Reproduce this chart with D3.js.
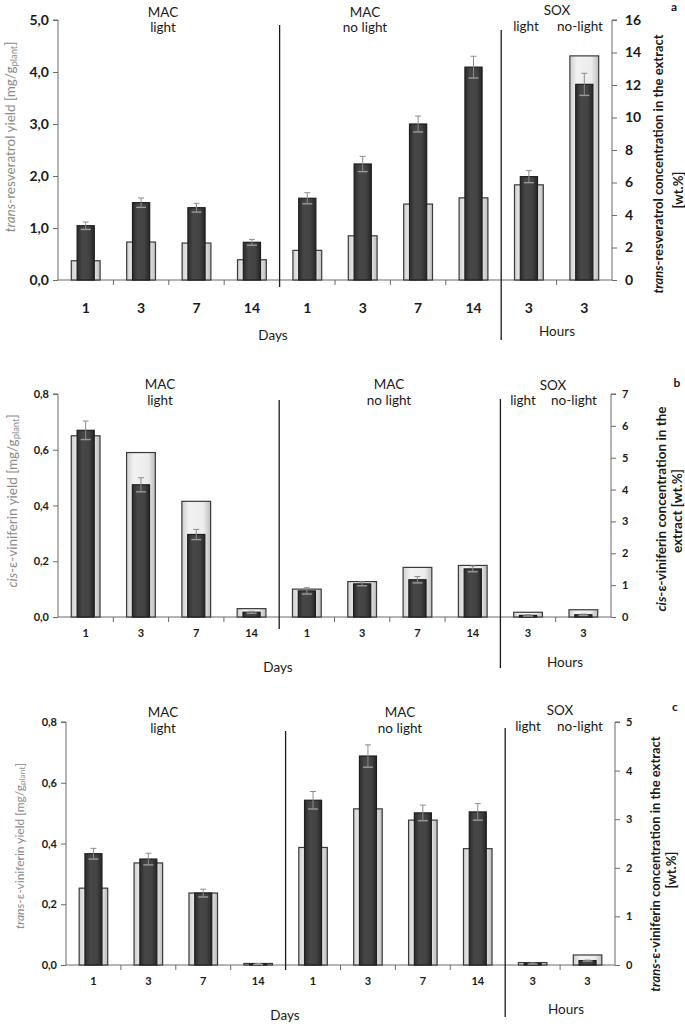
<!DOCTYPE html>
<html>
<head>
<meta charset="utf-8">
<script src="https://cdn.jsdelivr.net/npm/d3@7"></script>
<style>
  html, body { margin: 0; padding: 0; background: #fff; }
  svg { display: block; font-family: Lato, "Open Sans", sans-serif; }
</style>
</head>
<body>
<svg id="chart" width="685" height="1024"></svg>
<script>
// ---------- DATA ----------
const categories = ["1", "3", "7", "14", "1", "3", "7", "14", "3", "3"];

// Panel a: trans-resveratrol
const resvYield   = [0.37, 0.73, 0.71, 0.39, 0.57, 0.85, 1.46, 1.58, 1.83, 4.31];
const resvConc    = [3.34, 4.76, 4.45, 2.32, 5.03, 7.14, 9.60, 13.10, 6.36, 12.04];
const resvConcErr = [0.23, 0.29, 0.27, 0.18, 0.34, 0.47, 0.49, 0.67, 0.37, 0.68];
const resvLeftTicks  = [0, 1, 2, 3, 4, 5];
const resvRightTicks = [0, 2, 4, 6, 8, 10, 12, 14, 16];

// Panel b: cis-ε-viniferin
const cisYield   = [0.65, 0.59, 0.415, 0.03, 0.10, 0.127, 0.178, 0.185, 0.017, 0.026];
const cisConc    = [5.86, 4.15, 2.59, 0.15, 0.82, 1.04, 1.17, 1.51, 0.05, 0.07];
const cisConcErr = [0.29, 0.22, 0.16, 0.03, 0.10, 0.06, 0.10, 0.09, 0.02, 0.02];
const cisLeftTicks  = [0, 0.2, 0.4, 0.6, 0.8];
const cisRightTicks = [0, 1, 2, 3, 4, 5, 6, 7];

// Panel c: trans-ε-viniferin
const transYield   = [0.253, 0.336, 0.237, 0.005, 0.387, 0.514, 0.477, 0.383, 0.008, 0.033];
const transConc    = [2.29, 2.18, 1.48, 0.02, 3.39, 4.30, 3.13, 3.15, 0.03, 0.09];
const transConcErr = [0.11, 0.12, 0.08, 0.01, 0.18, 0.23, 0.16, 0.17, 0.01, 0.01];
const transLeftTicks  = [0, 0.2, 0.4, 0.6, 0.8];
const transRightTicks = [0, 1, 2, 3, 4, 5];

const groupLabels = ["MAC", "MAC", "SOX"];
const groupSubLabels = ["light", "no light"];
const soxSubLabels = ["light", "no-light"];

// ---------- DRAWING ----------
const svg = d3.select("#chart");
const defs = svg.append("defs");
const lg = defs.append("linearGradient").attr("id", "lightGrad").attr("x1", "0").attr("x2", "1").attr("y1", "0").attr("y2", "0");
lg.append("stop").attr("offset", "0").attr("stop-color", "#cfcfcf");
lg.append("stop").attr("offset", "0.25").attr("stop-color", "#f2f2f2");
lg.append("stop").attr("offset", "0.75").attr("stop-color", "#ececec");
lg.append("stop").attr("offset", "1").attr("stop-color", "#bdbdbd");
const dg = defs.append("linearGradient").attr("id", "darkGrad").attr("x1", "0").attr("x2", "1").attr("y1", "0").attr("y2", "0");
dg.append("stop").attr("offset", "0").attr("stop-color", "#2c2c2c");
dg.append("stop").attr("offset", "0.3").attr("stop-color", "#474747");
dg.append("stop").attr("offset", "0.7").attr("stop-color", "#434343");
dg.append("stop").attr("offset", "1").attr("stop-color", "#262626");

function drawPanel(p) {
  const g = svg.append("g");
  const idx = d3.range(categories.length);
  const x = d3.scaleBand().domain(idx).range([p.left, p.right]).padding(0);
  const yL = d3.scaleLinear().domain(p.leftDomain).range([p.bottom, p.top]);
  const yR = d3.scaleLinear().domain(p.rightDomain).range([p.bottom, p.top]);
  const step = x.step();
  const lw = step * 0.52, dw = step * 0.31;

  // left axis
  const axL = d3.axisLeft(yL).tickValues(p.leftTicks).tickSize(5).tickPadding(4)
    .tickFormat(d => d3.format(".1f")(d).replace(".", ","));
  const gL = g.append("g").attr("transform", `translate(${p.left},0)`).call(axL);
  gL.select(".domain").attr("stroke", "#6a6a6a").attr("d", `M-5,${p.top}H0V${p.bottom}`);
  gL.selectAll(".tick line").attr("stroke", "#6a6a6a");
  gL.selectAll(".tick text").attr("font-size", p.tickFont).attr("font-weight", "bold").attr("fill", "#1a1a1a")
    .attr("font-family", "Lato, sans-serif");

  // right axis
  const axR = d3.axisRight(yR).tickValues(p.rightTicks).tickSize(5).tickPadding(p.rightPad)
    .tickFormat(d3.format("d"));
  const gR = g.append("g").attr("transform", `translate(${p.right},0)`).call(axR);
  gR.select(".domain").attr("stroke", "#6a6a6a").attr("d", `M5,${p.top}H0V${p.bottom}`);
  gR.selectAll(".tick line").attr("stroke", "#6a6a6a");
  gR.selectAll(".tick text").attr("font-size", p.rightTickFont).attr("font-weight", "bold").attr("fill", "#1a1a1a")
    .attr("font-family", "Lato, sans-serif");

  // bottom axis (labels at band centres, tick marks at boundaries)
  const axB = d3.axisBottom(x).tickSize(0).tickPadding(p.catPad).tickFormat(i => categories[i]);
  const gB = g.append("g").attr("transform", `translate(0,${p.bottom})`).call(axB);
  gB.select(".domain").attr("stroke", "#6a6a6a").attr("d", `M${p.left},0H${p.right}`);
  gB.selectAll(".tick text").attr("font-size", p.catFont).attr("font-weight", "bold").attr("fill", "#1a1a1a")
    .attr("font-family", "Lato, sans-serif");
  const boundaries = d3.range(1, categories.length).filter(i => i !== 4 && i !== 8);
  g.selectAll(".bt").data(boundaries).join("line")
    .attr("x1", i => x(i)).attr("x2", i => x(i))
    .attr("y1", p.bottom).attr("y2", p.bottom + 5)
    .attr("stroke", "#6a6a6a");

  // light bars (yield, left axis)
  g.selectAll(".lb").data(idx).join("rect")
    .attr("x", i => x(i) + (step - lw) / 2)
    .attr("width", lw)
    .attr("y", i => yL(p.yieldVals[i]))
    .attr("height", i => p.bottom - yL(p.yieldVals[i]))
    .attr("fill", "url(#lightGrad)")
    .attr("stroke", "#3a3a3a").attr("stroke-width", 1.2);

  // dark bars (concentration, right axis)
  g.selectAll(".db").data(idx).join("rect")
    .attr("x", i => x(i) + (step - dw) / 2)
    .attr("width", dw)
    .attr("y", i => yR(p.concVals[i]))
    .attr("height", i => p.bottom - yR(p.concVals[i]))
    .attr("fill", "url(#darkGrad)")
    .attr("stroke", "#1e1e1e").attr("stroke-width", 1.2);

  // error bars
  const eb = g.selectAll(".eb").data(idx).join("g").attr("stroke", "#8c8c8c").attr("stroke-width", 1);
  eb.append("line")
    .attr("x1", i => x(i) + step / 2).attr("x2", i => x(i) + step / 2)
    .attr("y1", i => yR(Math.max(0, p.concVals[i] - p.concErr[i])))
    .attr("y2", i => yR(p.concVals[i] + p.concErr[i]));
  eb.append("line")
    .attr("x1", i => x(i) + step / 2 - 3).attr("x2", i => x(i) + step / 2 + 3)
    .attr("y1", i => yR(p.concVals[i] + p.concErr[i])).attr("y2", i => yR(p.concVals[i] + p.concErr[i]));
  eb.append("line")
    .attr("x1", i => x(i) + step / 2 - 5).attr("x2", i => x(i) + step / 2 + 5)
    .attr("y1", i => yR(Math.max(0, p.concVals[i] - p.concErr[i])))
    .attr("y2", i => yR(Math.max(0, p.concVals[i] - p.concErr[i])))
    .attr("stroke", "#9a9a9a").attr("stroke-width", 1.4);

  // dividers
  const d1 = x(4), d2 = x(8);
  g.append("line").attr("x1", d1).attr("x2", d1).attr("y1", p.div1[0]).attr("y2", p.div1[1])
    .attr("stroke", "#1a1a1a").attr("stroke-width", 1.3);
  g.append("line").attr("x1", d2).attr("x2", d2).attr("y1", p.div2[0]).attr("y2", p.div2[1])
    .attr("stroke", "#1a1a1a").attr("stroke-width", 1.3);

  // group annotations
  const ann = g.append("g").attr("font-size", p.annFont).attr("fill", "#1a1a1a").attr("text-anchor", "middle");
  ann.append("text").attr("x", p.mac1X).attr("y", p.annY1).text(groupLabels[0]);
  ann.append("text").attr("x", p.mac1X).attr("y", p.annY2).text(groupSubLabels[0]);
  ann.append("text").attr("x", p.mac2X).attr("y", p.annY1).text(groupLabels[1]);
  ann.append("text").attr("x", p.mac2X).attr("y", p.annY2).text(groupSubLabels[1]);
  ann.append("text").attr("x", p.soxX).attr("y", p.soxY1).text(groupLabels[2]);
  ann.append("text").attr("x", p.soxLX).attr("y", p.soxY2).text(soxSubLabels[0]);
  ann.append("text").attr("x", p.soxNX).attr("y", p.soxY2).text(soxSubLabels[1]);

  // Days / Hours
  ann.append("text").attr("x", p.daysX).attr("y", p.daysY).text("Days");
  ann.append("text").attr("x", p.hoursX).attr("y", p.hoursY).text("Hours");

  // panel letter
  g.append("text").attr("x", p.letterX).attr("y", p.letterY).attr("font-size", 12).attr("font-weight", "bold")
    .attr("text-anchor", "middle").attr("fill", "#1a1a1a").text(p.letter);

  // left title (gray)
  const lt = g.append("text").attr("transform", `translate(${p.ltX},${p.ltY}) rotate(-90)`)
    .attr("text-anchor", "middle").attr("dominant-baseline", "central")
    .attr("font-size", p.ltFont).attr("fill", "#8a8a8a");
  lt.append("tspan").attr("font-style", "italic").text(p.ltItalic);
  lt.append("tspan").text(p.ltRest);
  lt.append("tspan").attr("font-size", p.ltFont * 0.7).attr("dy", 3).text("plant");
  lt.append("tspan").attr("dy", -3).text("]");

  // right title (bold black, 2 lines)
  const rt1 = g.append("text").attr("transform", `translate(${p.rt1X},${p.rt1Y}) rotate(-90)`)
    .attr("text-anchor", "middle").attr("dominant-baseline", "central")
    .attr("font-size", p.rtFont).attr("font-weight", "bold").attr("fill", "#1a1a1a");
  rt1.append("tspan").attr("font-style", "italic").text(p.rtItalic);
  rt1.append("tspan").text(p.rtRest1);
  g.append("text").attr("transform", `translate(${p.rt2X},${p.rt2Y}) rotate(-90)`)
    .attr("text-anchor", "middle").attr("dominant-baseline", "central")
    .attr("font-size", p.rtFont).attr("font-weight", "bold").attr("fill", "#1a1a1a")
    .text(p.rtLine2);
}

drawPanel({
  left: 58, right: 612, top: 20, bottom: 280,
  leftDomain: [0, 5], rightDomain: [0, 16],
  leftTicks: resvLeftTicks, rightTicks: resvRightTicks,
  yieldVals: resvYield, concVals: resvConc, concErr: resvConcErr,
  tickFont: 14, rightTickFont: 14, rightPad: 8, catFont: 14, catPad: 23,
  div1: [25, 287], div2: [30, 340],
  annFont: 13.5, mac1X: 163, mac2X: 365, annY1: 17, annY2: 32,
  soxX: 557, soxLX: 526, soxNX: 580, soxY1: 15, soxY2: 31,
  daysX: 273, daysY: 340, hoursX: 557, hoursY: 336,
  letter: "a", letterX: 674, letterY: 11,
  ltX: 10, ltY: 137, ltFont: 13.5, ltItalic: "trans", ltRest: "-resveratrol yield [mg/g",
  rt1X: 658, rt1Y: 164, rt2X: 678, rt2Y: 190, rtFont: 13,
  rtItalic: "trans", rtRest1: "-resveratrol concentration in the extract", rtLine2: "[wt.%]"
});

drawPanel({
  left: 58, right: 611, top: 394, bottom: 617,
  leftDomain: [0, 0.8], rightDomain: [0, 7],
  leftTicks: cisLeftTicks, rightTicks: cisRightTicks,
  yieldVals: cisYield, concVals: cisConc, concErr: cisConcErr,
  tickFont: 11, rightTickFont: 11, rightPad: 6, catFont: 11, catPad: 12,
  div1: [400, 629], div2: [399, 668],
  annFont: 13.5, mac1X: 160, mac2X: 389, annY1: 389, annY2: 405,
  soxX: 553, soxLX: 523, soxNX: 574, soxY1: 390, soxY2: 405,
  daysX: 278, daysY: 672, hoursX: 565, hoursY: 667,
  letter: "b", letterX: 677, letterY: 387,
  ltX: 12, ltY: 501, ltFont: 13.5, ltItalic: "cis", ltRest: "-ε-viniferin yield [mg/g",
  rt1X: 661, rt1Y: 509, rt2X: 677, rt2Y: 511, rtFont: 13.5,
  rtItalic: "cis", rtRest1: "-ε-viniferin concentration in the", rtLine2: "extract [wt.%]"
});

drawPanel({
  left: 66, right: 615, top: 722, bottom: 965,
  leftDomain: [0, 0.8], rightDomain: [0, 5],
  leftTicks: transLeftTicks, rightTicks: transRightTicks,
  yieldVals: transYield, concVals: transConc, concErr: transConcErr,
  tickFont: 11, rightTickFont: 11, rightPad: 6, catFont: 11, catPad: 12,
  div1: [731, 970], div2: [728, 1017],
  annFont: 13.5, mac1X: 163, mac2X: 400, annY1: 717, annY2: 733,
  soxX: 560, soxLX: 528, soxNX: 580, soxY1: 715, soxY2: 731,
  daysX: 285, daysY: 1020, hoursX: 566, hoursY: 1014,
  letter: "c", letterX: 675, letterY: 711,
  ltX: 19, ltY: 846, ltFont: 12, ltItalic: "trans", ltRest: "-ε-viniferin yield [mg/g",
  rt1X: 655, rt1Y: 864, rt2X: 671, rt2Y: 870, rtFont: 13,
  rtItalic: "trans", rtRest1: "-ε-viniferin concentration in the extract", rtLine2: "[wt.%]"
});
</script>
</body>
</html>
